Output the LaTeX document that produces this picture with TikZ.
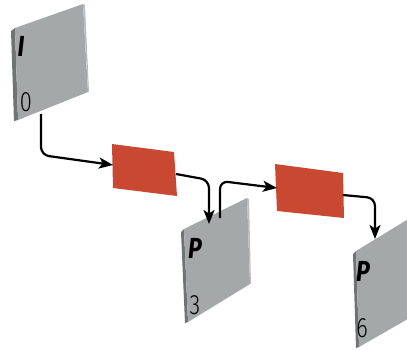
\documentclass[tikz,border=0pt]{standalone}
\usepackage{fontspec}
\setmainfont{Fira Sans}
\newfontfamily\letfont{Fira Sans}[FakeStretch=0.8]
\newfontfamily\numfont{Fira Sans Light}[FakeStretch=0.78]
\usetikzlibrary{arrows.meta}

\definecolor{panelgray}{RGB}{165,168,169}
\definecolor{paneldark}{RGB}{112,115,116}
\definecolor{panellight}{RGB}{186,189,190}
\definecolor{boxred}{RGB}{201,72,50}

\tikzset{
	face/.style={fill=panelgray},
	sideedge/.style={fill=paneldark},
	rimedge/.style={fill=panellight},
	redbox/.style={fill=boxred},
	flow/.style={-{Stealth[length=14pt, width=11pt, inset=3.5pt]}, line width=2.2pt, rounded corners=8pt},
	letter/.style={font=\fontsize{29}{29}\selectfont\letfont\bfseries\itshape},
	digit/.style={font=\fontsize{28}{28}\selectfont\numfont},
}

\begin{document}
\begin{tikzpicture}[x=1pt, y=-1pt]
		\useasboundingbox (0,0) rectangle (407,349);
		\clip (0,0) rectangle (407,349);

		\fill[sideedge] (11,31) -- (15,28) -- (18,120) -- (14,121) -- cycle;
		\fill[face] (15,28) -- (83,4) -- (88,92) -- (18,120) -- cycle;
		\fill[rimedge] (83,4) -- (85,5) -- (89,92) -- (88,92) -- cycle;
		\node[letter] (lblI) at (21,46) {I};
		\node[digit] (numI) at (26,102) {0};

		\fill[redbox] (112,144) -- (174,152) -- (177,196) -- (113,188) -- cycle;

		\fill[sideedge] (181,232) -- (184,229) -- (188,322) -- (185,323) -- cycle;
		\fill[face] (184,229) -- (247,198) -- (250,284) -- (188,322) -- cycle;
		\fill[rimedge] (247,198) -- (249,199) -- (251,284) -- (250,284) -- cycle;
		\node[letter] (lblP3) at (195,248) {P};
		\node[digit] (numP3) at (195,305) {3};

		\fill[redbox] (275,164) -- (343,173) -- (344,218) -- (277,211) -- cycle;

		\fill[sideedge] (353,254) -- (356,251) -- (359,347) -- (356,348) -- cycle;
		\fill[face] (356,251) -- (410,218) -- (413,316) -- (359,347) -- cycle;
		\node[letter] (lblP6) at (363,271) {P};
		\node[digit] (numP6) at (362,328) {6};

		\coordinate (Iout) at (41,114);
		\coordinate (R1in) at (113,165);
		\coordinate (R1out) at (176,174);
		\coordinate (P3in) at (209,224);
		\coordinate (P3out) at (220,218);
		\coordinate (R2in) at (277,188);
		\coordinate (R2out) at (343,195);
		\coordinate (P6in) at (375,239);

		\draw[flow] (Iout) -- (41,155) -- (R1in);
		\draw[flow] (R1out) -- (209,180) -- (P3in);
		\draw[flow] (P3out) -- (220,181) -- (R2in);
		\draw[flow] (R2out) -- (375,198) -- (P6in);
	\end{tikzpicture}
\end{document}
